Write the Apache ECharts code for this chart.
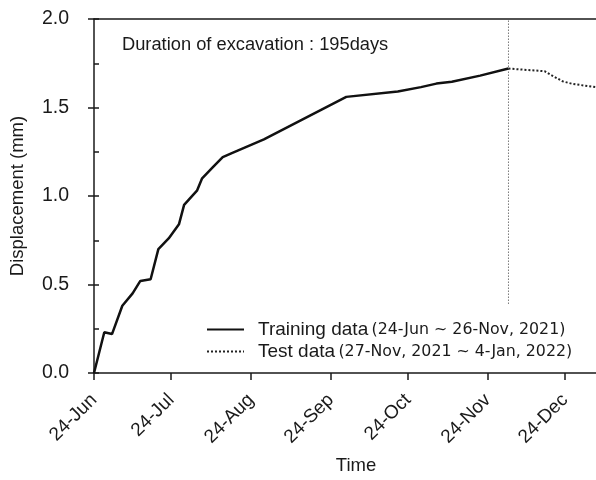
<!DOCTYPE html>
<html>
<head>
<meta charset="utf-8">
<script src="https://cdn.jsdelivr.net/npm/echarts@6/dist/echarts.min.js"></script>
<style>
  html, body { margin: 0; padding: 0; background: #fff; }
  #chart { width: 596px; height: 480px; }
</style>
</head>
<body>
<div id="chart"></div>
<script>
// Monitored displacement during excavation (mm)
const trainingDates = [
  '2021-06-24', '2021-06-28', '2021-07-01', '2021-07-05', '2021-07-09',
  '2021-07-12', '2021-07-16', '2021-07-19', '2021-07-23', '2021-07-27',
  '2021-07-29', '2021-08-03', '2021-08-05', '2021-08-09', '2021-08-13',
  '2021-08-17', '2021-08-29', '2021-09-30', '2021-10-20', '2021-10-29',
  '2021-11-04', '2021-11-10', '2021-11-21', '2021-12-02'
];
const trainingValues = [
  0.00, 0.23, 0.22, 0.38, 0.45,
  0.52, 0.53, 0.70, 0.76, 0.84,
  0.95, 1.03, 1.10, 1.16, 1.22,
  1.245, 1.32, 1.56, 1.59, 1.615,
  1.635, 1.645, 1.68, 1.72
];
const testDates = [
  '2021-12-02', '2021-12-16', '2021-12-19', '2021-12-23', '2021-12-27', '2022-01-05'
];
const testValues = [
  1.72, 1.705, 1.68, 1.648, 1.633, 1.615
];
const splitDate = '2021-12-02';
const splitRange = [0.39, 2.0];

const axisStart = '2021-06-24';
const axisEnd = '2022-01-05';
const tickDates = [
  '2021-06-24', '2021-07-24', '2021-08-24', '2021-09-24',
  '2021-10-24', '2021-11-24', '2021-12-24'
];
const monthNames = ['Jan', 'Feb', 'Mar', 'Apr', 'May', 'Jun',
                    'Jul', 'Aug', 'Sep', 'Oct', 'Nov', 'Dec'];
const yTicks = [0, 0.5, 1.0, 1.5, 2.0];

const seriesNames = ['Training data', 'Test data'];
const seriesPeriods = ['(24-Jun ~ 26-Nov, 2021)', '(27-Nov, 2021 ~ 4-Jan, 2022)'];
const noteText = 'Duration of excavation : 195days';

// Dates are placed on a day-count axis measured from the start of excavation
const DAY = 86400000;
function toDate(s) {
  const p = s.split('-').map(Number);
  return new Date(p[0], p[1] - 1, p[2]);
}
function toDay(s) {
  return Math.round((toDate(s) - toDate(axisStart)) / DAY);
}
function dayLabel(day) {
  const d = new Date(toDate(axisStart).getTime() + day * DAY + DAY / 2);
  return d.getDate() + '-' + monthNames[d.getMonth()];
}
function pairs(dates, values) {
  return dates.map((d, i) => [toDay(d), values[i]]);
}

const FONT = 'Liberation Sans, Arial, sans-serif';
const INK = '#1a1a1a';
const tickDays = tickDates.map(toDay);

const chart = echarts.init(document.getElementById('chart'), null, { renderer: 'canvas' });

const baseX = {
  type: 'value',
  min: 0,
  max: toDay(axisEnd),
  splitLine: { show: false }
};
const baseY = {
  type: 'value',
  min: yTicks[0],
  max: yTicks[yTicks.length - 1],
  interval: 0.5,
  position: 'left',
  splitLine: { show: false }
};

chart.setOption({
  animation: false,
  backgroundColor: '#fff',
  grid: { left: 92, right: 0, top: 19, bottom: 105 },
  title: {
    text: noteText,
    left: 122,
    top: 36,
    padding: 0,
    textStyle: { fontFamily: FONT, fontSize: 18.3, fontWeight: 'normal', color: INK }
  },
  legend: {
    orient: 'vertical',
    left: 206,
    top: 320,
    padding: 0,
    itemGap: 3,
    itemWidth: 37,
    itemHeight: 22,
    data: seriesNames,
    itemStyle: { opacity: 0 },
    formatter: name => '{a|' + name + '} {b|' + seriesPeriods[seriesNames.indexOf(name)] + '}',
    textStyle: {
      color: INK,
      padding: [0, 0, 0, 9],
      rich: {
        a: { fontFamily: FONT, fontSize: 19, color: INK },
        b: { fontFamily: 'DejaVu Sans, sans-serif', fontSize: 15.8, color: INK }
      }
    }
  },
  xAxis: [
    Object.assign({}, baseX, {
      position: 'bottom',
      name: 'Time',
      nameLocation: 'middle',
      nameGap: 83,
      nameTextStyle: { fontFamily: FONT, fontSize: 18.5, color: INK, padding: [0, 0, 0, 22] },
      axisLine: { show: true, onZero: false, lineStyle: { color: INK, width: 1.5 } },
      axisTick: { show: true, inside: false, length: 7, lineStyle: { color: INK, width: 1.5 },
                  customValues: tickDays },
      axisLabel: {
        show: true, rotate: 45, margin: 24,
        fontFamily: FONT, fontSize: 19, color: INK,
        customValues: tickDays,
        formatter: v => dayLabel(v)
      }
    }),
    Object.assign({}, baseX, {
      position: 'top',
      axisLine: { show: true, onZero: false, lineStyle: { color: INK, width: 1.5 } },
      axisTick: { show: false },
      axisLabel: { show: false }
    })
  ],
  yAxis: [
    Object.assign({}, baseY, {
      name: 'Displacement (mm)',
      nameLocation: 'middle',
      nameGap: 67,
      nameTextStyle: { fontFamily: FONT, fontSize: 18.5, color: INK },
      axisLine: { show: true, onZero: false, lineStyle: { color: INK, width: 1.5 } },
      axisTick: { show: true, inside: false, length: 6, lineStyle: { color: INK, width: 1.5 } },
      axisLabel: { show: true, margin: 25, fontFamily: FONT, fontSize: 19.5, color: INK,
                   formatter: v => v.toFixed(1) }
    }),
    Object.assign({}, baseY, {
      axisLine: { show: false },
      axisTick: { show: true, inside: true, length: 5, lineStyle: { color: INK, width: 1.5 } },
      minorTick: { show: true, splitNumber: 2, length: 5, lineStyle: { color: INK, width: 1.5 } },
      axisLabel: { show: false }
    })
  ],
  series: [
    {
      name: seriesNames[0],
      type: 'line',
      data: pairs(trainingDates, trainingValues),
      symbol: 'none',
      lineStyle: { color: '#111', width: 2.5 },
      itemStyle: { color: '#111' },
      z: 3
    },
    {
      name: seriesNames[1],
      type: 'line',
      data: pairs(testDates, testValues),
      symbol: 'none',
      lineStyle: { color: '#222', width: 2, type: [2, 2] },
      itemStyle: { color: '#222' },
      z: 3
    },
    {
      name: 'split',
      type: 'line',
      data: splitRange.map(v => [toDay(splitDate), v]),
      symbol: 'none',
      silent: true,
      lineStyle: { color: '#777', width: 1, type: [1.5, 1.5] },
      z: 2
    }
  ]
});
</script>
</body>
</html>
